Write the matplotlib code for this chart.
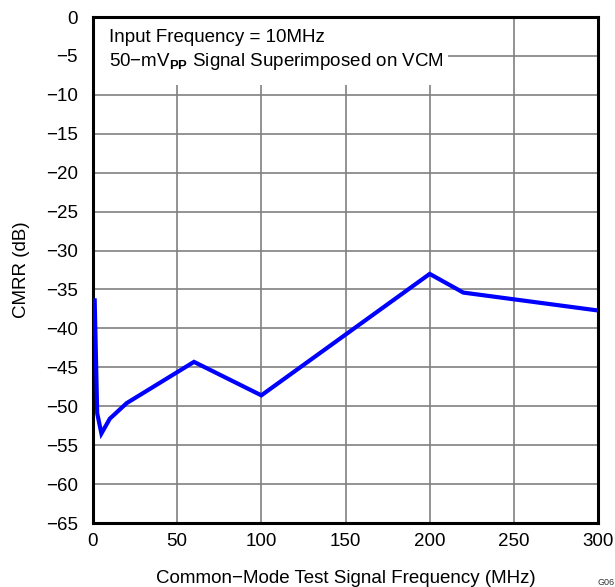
import matplotlib
matplotlib.use("Agg")
import matplotlib.pyplot as plt
from matplotlib.patches import Rectangle

plt.rcParams["font.family"] = ["Liberation Sans", "DejaVu Sans"]
plt.rcParams["mathtext.fontset"] = "custom"
plt.rcParams["mathtext.rm"] = "Liberation Sans"
plt.rcParams["mathtext.bf"] = "Liberation Sans:bold"

# CMRR versus common-mode test signal frequency
freq_mhz = [1, 2.5, 5, 10, 20, 60, 100, 200, 220, 300]
cmrr_db = [-36.4, -50.9, -53.5, -51.6, -49.6, -44.3, -48.6, -33.0, -35.4, -37.7]

x_ticks = [0, 50, 100, 150, 200, 250, 300]
y_ticks = list(range(0, -66, -5))

FS = 13.5

fig = plt.figure(figsize=(6.15, 5.87), dpi=100)
ax = fig.add_axes([0.1512, 0.109, 0.8212, 0.862])

ax.plot(freq_mhz, cmrr_db, color="#0000ff", linewidth=3.0, zorder=3,
        solid_joinstyle="miter")

ax.set_xlim(0, 300)
ax.set_ylim(-65, 0)
ax.set_xticks(x_ticks)
ax.set_yticks(y_ticks)
ax.set_xticklabels([str(v) for v in x_ticks])
ax.set_yticklabels([str(v).replace("-", "\u2212") for v in y_ticks])
ax.tick_params(length=0, labelsize=FS)
ax.tick_params(axis="x", pad=7)
ax.tick_params(axis="y", pad=11)

ax.grid(True, color="#808080", linewidth=1.2)
for s in ax.spines.values():
    s.set_linewidth(2.2)
    s.set_color("black")

# white panel behind the annotation
ax.add_patch(Rectangle((0, 0.866), 0.703, 0.134, transform=ax.transAxes,
                       facecolor="white", edgecolor="none", zorder=2))
ax.text(0.032, 0.960, "Input Frequency = 10MHz", transform=ax.transAxes,
        fontsize=FS, va="center", ha="left", zorder=4)
ax.text(0.032, 0.913, "50\u2212mV$_{\\mathbf{PP}}$ Signal Superimposed on VCM",
        transform=ax.transAxes, fontsize=FS, va="center", ha="left", zorder=4)

ax.set_xlabel("Common\u2212Mode Test Signal Frequency (MHz)", fontsize=FS)
ax.xaxis.set_label_coords(0.5, -0.1087)
ax.xaxis.label.set_va("center")
ax.set_ylabel("CMRR (dB)", fontsize=FS)
ax.yaxis.set_label_coords(-0.1406, 0.5)
ax.yaxis.label.set_va("center")

fig.text(0.972, 0.0085, "G06", fontsize=6.5, ha="left", va="center",
         color="#333333")

fig.savefig("out.png", dpi=100)
